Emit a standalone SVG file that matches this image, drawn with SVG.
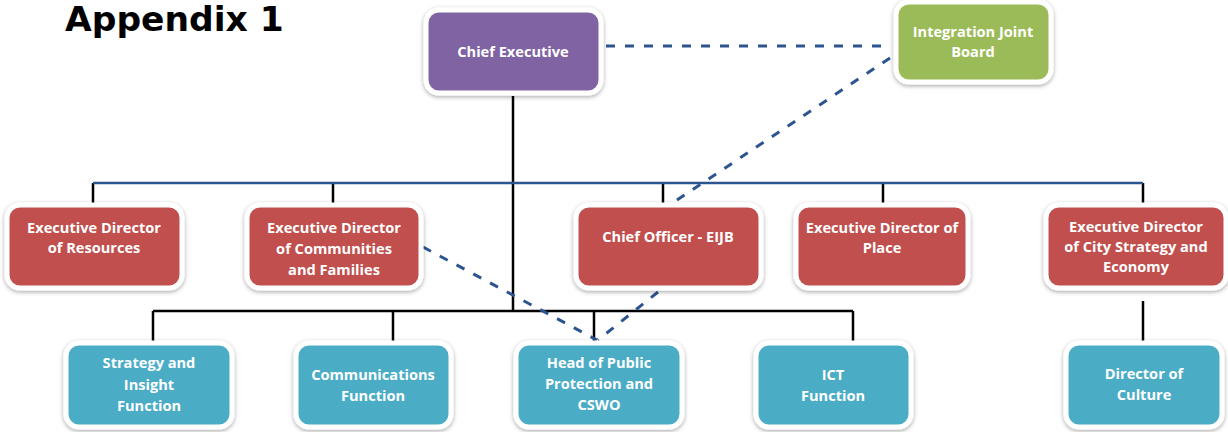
<svg xmlns="http://www.w3.org/2000/svg" width="1228" height="432" viewBox="0 0 1228 432">
  <defs>
    <filter id="shadow" x="-10%" y="-15%" width="120%" height="135%">
      <feDropShadow dx="0" dy="1.5" stdDeviation="2" flood-color="#000" flood-opacity="0.35"/>
    </filter>
    <style>
      .box { stroke: #ffffff; stroke-width: 5; filter: url(#shadow); }
      .exec { fill: #8064a2; }
      .ijb { fill: #9bbb59; }
      .dir { fill: #c0504d; }
      .fn { fill: #4bacc6; }
      .label { font-family: "Open Sans", "Liberation Sans", sans-serif; font-weight: bold; font-size: 14.6px; fill: #ffffff; text-anchor: middle; }
      .title { font-family: "DejaVu Sans", "Liberation Sans", sans-serif; font-weight: bold; font-size: 34.5px; fill: #000000; }
      .solid { stroke: #000000; stroke-width: 2.5; fill: none; }
      .bus { stroke: #2c5490; stroke-width: 2.5; fill: none; }
      .dash { stroke: #2c5490; stroke-width: 3; fill: none; stroke-dasharray: 9 10; }
    </style>
  </defs>

  <rect width="1228" height="432" fill="#ffffff"/>

  <text class="title" x="65" y="31">Appendix 1</text>

  <!-- reporting lines -->
  <g id="connectors">
    <path class="solid" d="M513 96 V311"/>
    <path class="solid" d="M93 183 V204 M333 183 V204 M663 183 V204 M883 183 V204 M1143 183 V204"/>
    <path class="bus" d="M93 183 H1143"/>
    <path class="solid" d="M153 311 H853 M153 311 V342 M393 311 V342 M594 311 V342 M853 311 V342"/>
    <path class="solid" d="M1143 301 V342"/>
    <path class="dash" d="M606 46 H890"/>
    <path class="dash" d="M890 58 L671 204"/>
    <path class="dash" d="M658 292 L598 340"/>
    <path class="dash" d="M423 247 L597 340"/>
  </g>

  <g id="chief-executive">
    <rect class="box exec" x="426" y="10" width="175" height="83" rx="13"/>
    <text class="label" x="513" y="57">Chief Executive</text>
  </g>

  <g id="integration-joint-board">
    <rect class="box ijb" x="896" y="2" width="155" height="80" rx="13"/>
    <text class="label" x="973" y="37">Integration Joint</text>
    <text class="label" x="973" y="57">Board</text>
  </g>

  <g id="ed-resources">
    <rect class="box dir" x="7" y="205" width="175" height="83" rx="13"/>
    <text class="label" x="94" y="233">Executive Director</text>
    <text class="label" x="94" y="253">of Resources</text>
  </g>

  <g id="ed-communities">
    <rect class="box dir" x="247" y="205" width="174" height="83" rx="13"/>
    <text class="label" x="334" y="233">Executive Director</text>
    <text class="label" x="334" y="254">of Communities</text>
    <text class="label" x="334" y="275">and Families</text>
  </g>

  <g id="chief-officer-eijb">
    <rect class="box dir" x="576" y="205" width="185" height="83" rx="13"/>
    <text class="label" x="668" y="242">Chief Officer - EIJB</text>
  </g>

  <g id="ed-place">
    <rect class="box dir" x="796" y="205" width="172" height="83" rx="13"/>
    <text class="label" x="882" y="233">Executive Director of</text>
    <text class="label" x="882" y="253">Place</text>
  </g>

  <g id="ed-city-strategy">
    <rect class="box dir" x="1046" y="205" width="180" height="83" rx="13"/>
    <text class="label" x="1136" y="232">Executive Director</text>
    <text class="label" x="1136" y="252">of City Strategy and</text>
    <text class="label" x="1136" y="272">Economy</text>
  </g>

  <g id="strategy-insight">
    <rect class="box fn" x="66" y="343" width="166" height="84" rx="13"/>
    <text class="label" x="149" y="368">Strategy and</text>
    <text class="label" x="149" y="390">Insight</text>
    <text class="label" x="149" y="411">Function</text>
  </g>

  <g id="communications">
    <rect class="box fn" x="296" y="343" width="155" height="84" rx="13"/>
    <text class="label" x="373" y="380">Communications</text>
    <text class="label" x="373" y="401">Function</text>
  </g>

  <g id="public-protection">
    <rect class="box fn" x="516" y="343" width="166" height="84" rx="13"/>
    <text class="label" x="599" y="368">Head of Public</text>
    <text class="label" x="599" y="389">Protection and</text>
    <text class="label" x="599" y="410">CSWO</text>
  </g>

  <g id="ict">
    <rect class="box fn" x="756" y="343" width="155" height="84" rx="13"/>
    <text class="label" x="833" y="380">ICT</text>
    <text class="label" x="833" y="401">Function</text>
  </g>

  <g id="director-culture">
    <rect class="box fn" x="1066" y="343" width="156" height="84" rx="13"/>
    <text class="label" x="1144" y="379">Director of</text>
    <text class="label" x="1144" y="400">Culture</text>
  </g>
</svg>
